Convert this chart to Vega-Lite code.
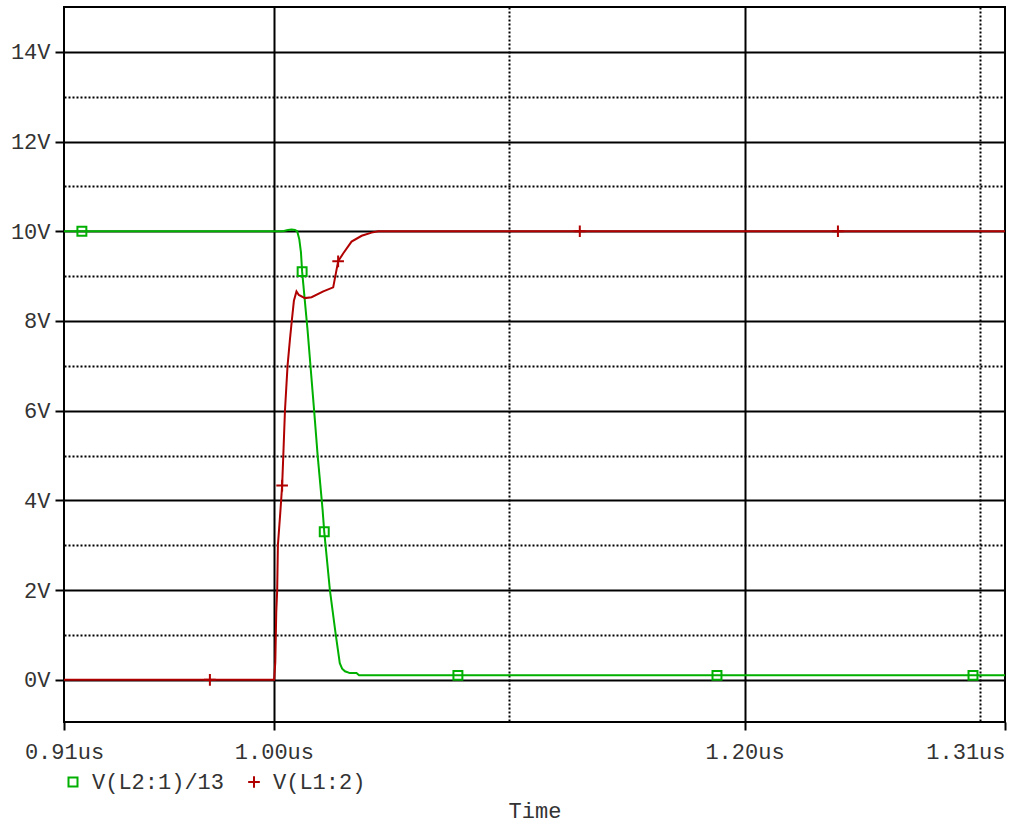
{
  "$schema": "https://vega.github.io/schema/vega-lite/v6.json",
  "width": 941,
  "height": 715,
  "autosize": {"type": "none"},
  "padding": {"left": 64, "top": 7, "right": 5, "bottom": 101},
  "background": "white",
  "config": {
    "font": "Liberation Mono",
    "view": {"stroke": "black", "strokeWidth": 2}
  },
  "datasets": {
    "curves": [
      {"series": "V(L2:1)/13", "t": 0.9108, "v": 10},
      {"series": "V(L2:1)/13", "t": 1.0038, "v": 10},
      {"series": "V(L2:1)/13", "t": 1.006, "v": 10.03},
      {"series": "V(L2:1)/13", "t": 1.0075, "v": 10.04},
      {"series": "V(L2:1)/13", "t": 1.0089, "v": 10.03},
      {"series": "V(L2:1)/13", "t": 1.0099, "v": 10.0},
      {"series": "V(L2:1)/13", "t": 1.0108, "v": 9.82},
      {"series": "V(L2:1)/13", "t": 1.0115, "v": 9.53},
      {"series": "V(L2:1)/13", "t": 1.012, "v": 9.1},
      {"series": "V(L2:1)/13", "t": 1.0143, "v": 7.8},
      {"series": "V(L2:1)/13", "t": 1.0171, "v": 6.0},
      {"series": "V(L2:1)/13", "t": 1.0186, "v": 5.0},
      {"series": "V(L2:1)/13", "t": 1.0207, "v": 3.79},
      {"series": "V(L2:1)/13", "t": 1.0214, "v": 3.3},
      {"series": "V(L2:1)/13", "t": 1.0238, "v": 2.0},
      {"series": "V(L2:1)/13", "t": 1.0262, "v": 1.04},
      {"series": "V(L2:1)/13", "t": 1.028, "v": 0.37},
      {"series": "V(L2:1)/13", "t": 1.029, "v": 0.25},
      {"series": "V(L2:1)/13", "t": 1.0302, "v": 0.19},
      {"series": "V(L2:1)/13", "t": 1.0323, "v": 0.15},
      {"series": "V(L2:1)/13", "t": 1.0351, "v": 0.15},
      {"series": "V(L2:1)/13", "t": 1.0362, "v": 0.1},
      {"series": "V(L2:1)/13", "t": 1.3107, "v": 0.1},
      {"series": "V(L1:2)", "t": 0.9108, "v": 0},
      {"series": "V(L1:2)", "t": 1.0001, "v": 0},
      {"series": "V(L1:2)", "t": 1.0006, "v": 0.4},
      {"series": "V(L1:2)", "t": 1.001, "v": 1.5},
      {"series": "V(L1:2)", "t": 1.0014, "v": 2.0},
      {"series": "V(L1:2)", "t": 1.0017, "v": 3.0},
      {"series": "V(L1:2)", "t": 1.0028, "v": 3.79},
      {"series": "V(L1:2)", "t": 1.0035, "v": 4.33},
      {"series": "V(L1:2)", "t": 1.004, "v": 5.0},
      {"series": "V(L1:2)", "t": 1.0047, "v": 6.0},
      {"series": "V(L1:2)", "t": 1.0058, "v": 7.0},
      {"series": "V(L1:2)", "t": 1.0068, "v": 7.58},
      {"series": "V(L1:2)", "t": 1.0076, "v": 8.0},
      {"series": "V(L1:2)", "t": 1.0085, "v": 8.45},
      {"series": "V(L1:2)", "t": 1.0096, "v": 8.66},
      {"series": "V(L1:2)", "t": 1.0106, "v": 8.58},
      {"series": "V(L1:2)", "t": 1.0132, "v": 8.51},
      {"series": "V(L1:2)", "t": 1.016, "v": 8.53},
      {"series": "V(L1:2)", "t": 1.021, "v": 8.66},
      {"series": "V(L1:2)", "t": 1.0252, "v": 8.75},
      {"series": "V(L1:2)", "t": 1.0273, "v": 9.33},
      {"series": "V(L1:2)", "t": 1.0295, "v": 9.51},
      {"series": "V(L1:2)", "t": 1.033, "v": 9.77},
      {"series": "V(L1:2)", "t": 1.0373, "v": 9.9},
      {"series": "V(L1:2)", "t": 1.0415, "v": 9.97},
      {"series": "V(L1:2)", "t": 1.0443, "v": 10.0},
      {"series": "V(L1:2)", "t": 1.3107, "v": 10.0}
    ],
    "markers": [
      {"series": "V(L2:1)/13", "t": 0.9184, "v": 10},
      {"series": "V(L2:1)/13", "t": 1.012, "v": 9.1},
      {"series": "V(L2:1)/13", "t": 1.0214, "v": 3.3},
      {"series": "V(L2:1)/13", "t": 1.0782, "v": 0.1},
      {"series": "V(L2:1)/13", "t": 1.1883, "v": 0.1},
      {"series": "V(L2:1)/13", "t": 1.2971, "v": 0.1},
      {"series": "V(L1:2)", "t": 0.9728, "v": 0},
      {"series": "V(L1:2)", "t": 1.0035, "v": 4.33},
      {"series": "V(L1:2)", "t": 1.0273, "v": 9.33},
      {"series": "V(L1:2)", "t": 1.13, "v": 10},
      {"series": "V(L1:2)", "t": 1.2397, "v": 10}
    ]
  },
  "layer": [
    {
      "data": {"name": "curves"},
      "mark": {"type": "line", "strokeWidth": 2},
      "encoding": {
        "x": {
          "field": "t",
          "type": "quantitative",
          "scale": {"domain": [0.9108, 1.3107], "nice": false, "zero": false},
          "axis": {
            "values": [0.9108, 1.0, 1.1, 1.2, 1.3, 1.3107],
            "labelExpr": "abs(datum.value-1.1)<0.001 || abs(datum.value-1.3)<0.001 ? '' : format(datum.value, '.2f') + 'us'",
            "labelAlign": {"condition": {"test": "datum.value > 1.305", "value": "right"}, "value": "center"},
            "labelOverlap": false,
            "labelFontSize": 22,
            "labelColor": "#333",
            "labelPadding": 11,
            "domain": false,
            "tickColor": "black",
            "tickWidth": 2,
            "tickSize": 8,
            "tickOpacity": {"condition": {"test": "abs(datum.value-1.1)<0.001 || abs(datum.value-1.3)<0.001", "value": 0}, "value": 1},
            "gridColor": "black",
            "gridWidth": 2,
            "gridDash": {"condition": {"test": "abs(datum.value-1.1)<0.001 || abs(datum.value-1.3)<0.001", "value": [2, 2]}, "value": []},
            "gridOpacity": {"condition": {"test": "datum.value < 0.95 || datum.value > 1.305", "value": 0}, "value": 1},
            "title": "Time",
            "titleFontSize": 22,
            "titleFontWeight": "normal",
            "titleColor": "#333",
            "titlePadding": 38
          }
        },
        "y": {
          "field": "v",
          "type": "quantitative",
          "scale": {"domain": [-0.94, 15], "nice": false, "zero": false},
          "axis": {
            "values": [0, 1, 2, 3, 4, 5, 6, 7, 8, 9, 10, 11, 12, 13, 14],
            "labelExpr": "datum.value % 2 == 0 ? datum.value + 'V' : ''",
            "labelFontSize": 22,
            "labelColor": "#333",
            "labelPadding": 5,
            "domain": false,
            "tickColor": "black",
            "tickWidth": 2,
            "tickSize": 9,
            "tickOpacity": {"condition": {"test": "datum.value % 2 == 1", "value": 0}, "value": 1},
            "gridColor": "black",
            "gridWidth": 2,
            "gridDash": {"condition": {"test": "datum.value % 2 == 1", "value": [2, 2]}, "value": []},
            "title": null
          }
        },
        "color": {
          "field": "series",
          "type": "nominal",
          "scale": {"domain": ["V(L2:1)/13", "V(L1:2)"], "range": ["#00b000", "#b00000"]}
        }
      }
    },
    {
      "data": {"name": "markers"},
      "mark": {"type": "point", "filled": false, "strokeWidth": 2, "size": 80, "opacity": 1},
      "encoding": {
        "x": {"field": "t", "type": "quantitative"},
        "y": {"field": "v", "type": "quantitative"},
        "color": {
          "field": "series",
          "type": "nominal",
          "legend": {
            "orient": "none",
            "legendX": -2,
            "legendY": 764,
            "direction": "horizontal",
            "title": null,
            "labelFont": "Liberation Mono",
            "labelFontSize": 22,
            "labelColor": "#333",
            "labelOffset": 8,
            "columnPadding": 18,
            "padding": 0,
            "symbolSize": 81,
            "symbolStrokeWidth": 2
          }
        },
        "shape": {
          "field": "series",
          "type": "nominal",
          "scale": {"domain": ["V(L2:1)/13", "V(L1:2)"], "range": ["square", "M-1.3,0H1.3M0,-1.3V1.3"]},
          "legend": {
            "orient": "none",
            "legendX": -2,
            "legendY": 764,
            "direction": "horizontal",
            "title": null,
            "labelFont": "Liberation Mono",
            "labelFontSize": 22,
            "labelColor": "#333",
            "labelOffset": 8,
            "columnPadding": 18,
            "padding": 0,
            "symbolSize": 81,
            "symbolStrokeWidth": 2
          }
        }
      }
    }
  ]
}
